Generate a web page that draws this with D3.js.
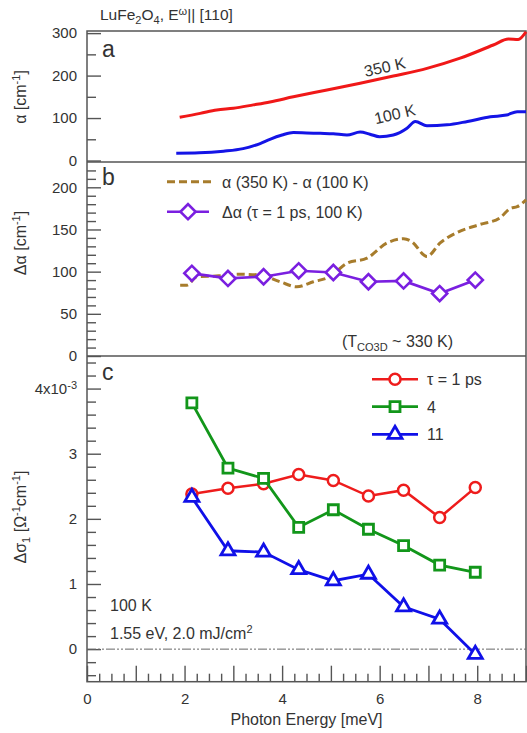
<!DOCTYPE html>
<html>
<head>
<meta charset="utf-8">
<script src="https://cdn.jsdelivr.net/npm/d3@7/dist/d3.min.js"></script>
<style>
body { margin: 0; background: #fff; }
svg text { font-family: "Liberation Sans", Arial, sans-serif; fill: #333; }
</style>
</head>
<body>
<svg id="chart" width="527" height="733"></svg>
<script>
// panel a: absorption spectra
const red350E = [1.9, 2.32, 2.66, 3.0, 3.41, 3.75, 4.23, 4.92, 5.6, 6.28, 6.97, 7.65, 8.33, 8.64, 8.84, 9.0];
const red350V = [102, 111, 119, 123, 131, 138, 150, 166, 182, 199, 217, 241, 272, 286, 285, 303];
const blue100E = [1.83, 2.3, 2.8, 3.2, 3.55, 3.75, 4.0, 4.23, 4.5, 4.78, 5.05, 5.33, 5.6, 5.8, 6.0, 6.28, 6.56, 6.73, 6.97, 7.38, 7.8, 8.27, 8.6, 8.82, 9.0];
const blue100V = [17, 18, 22, 28, 40, 50, 60, 66, 65, 64, 63, 60, 67, 62, 56, 60, 76, 92, 82, 84, 92, 103, 107, 115, 115];

// panel b: difference spectrum and pump-probe
const diffE = [1.91, 2.05, 2.25, 2.7, 3.1, 3.55, 3.96, 4.3, 4.64, 4.98, 5.33, 5.74, 6.15, 6.49, 6.69, 6.9, 6.97, 7.24, 7.65, 8.06, 8.47, 8.68, 8.82, 9.0];
const diffV = [84, 84, 94, 95, 97, 96, 88, 82, 88, 94, 110, 116, 134, 139, 134, 120, 118, 134, 148, 156, 164, 175, 177, 185];
const pumpE = [2.15, 2.89, 3.62, 4.34, 5.05, 5.77, 6.49, 7.23, 7.96];
const dAlpha1ps = [98, 92, 94, 101, 99, 88, 89, 74, 90];

// panel c: conductivity change (x10^-3)
const dSigma1ps = [2.38, 2.47, 2.54, 2.68, 2.59, 2.35, 2.44, 2.02, 2.48];
const dSigma4ps = [3.78, 2.78, 2.62, 1.87, 2.14, 1.84, 1.59, 1.29, 1.18];
const dSigma11ps = [2.33, 1.51, 1.49, 1.22, 1.05, 1.15, 0.65, 0.46, -0.08];

const xTicks = [0, 2, 4, 6, 8];

const svg = d3.select("#chart");
const L = 87, R = 526, T = 31, AB = 162, BB = 356, CB = 681.7;
const FS = "16px", SUB = "11px";

const x = d3.scaleLinear().domain([0, 9]).range([L, R]);
const yA = d3.scaleLinear().domain([-3.5, 305]).range([AB, T]);
const yB = d3.scaleLinear().domain([0, 230]).range([BB, AB]);
const yC = d3.scaleLinear().domain([-0.5, 4.5]).range([CB, BB]);

const axisColor = "#555";

function styleAxis(g) {
  g.select(".domain").remove();
  g.selectAll(".tick line").attr("stroke", axisColor).attr("stroke-width", 1.4);
  g.selectAll(".tick text").style("font-size", "15px").attr("fill", "#333");
}

function yAxis(scale, major, minor) {
  svg.append("g").attr("transform", `translate(${L},0)`)
    .call(d3.axisLeft(scale).tickValues(minor).tickSize(-9).tickFormat(""))
    .call(styleAxis);
  return svg.append("g").attr("transform", `translate(${L},0)`)
    .call(d3.axisLeft(scale).tickValues(major).tickSizeInner(-14).tickSizeOuter(0).tickPadding(10).tickFormat(d3.format("d")))
    .call(styleAxis);
}

yAxis(yA, [0, 100, 200, 300], [50, 150, 250]);
yAxis(yB, [0, 50, 100, 150, 200], d3.range(10, 230, 10).filter(v => v % 50));
const gc = yAxis(yC, [0, 1, 2, 3, 4], d3.range(-2, 23).map(i => i / 5).filter(v => !Number.isInteger(v)));
gc.selectAll(".tick text").filter(d => d === 4).each(function () {
  const t = d3.select(this).text("4x10");
  t.append("tspan").attr("dy", "-0.45em").style("font-size", SUB).text("-3");
});

// x axis
svg.append("g").attr("transform", `translate(0,${CB})`)
  .call(d3.axisBottom(x).tickValues(d3.range(0, 37).map(i => i / 4).filter(v => !Number.isInteger(v))).tickSize(-8).tickFormat(""))
  .call(styleAxis);
svg.append("g").attr("transform", `translate(0,${CB})`)
  .call(d3.axisBottom(x).tickValues(d3.range(0, 10)).tickSizeInner(-16).tickSizeOuter(0).tickPadding(12)
    .tickFormat(d => xTicks.includes(d) ? d : ""))
  .call(styleAxis);

// frame
svg.append("rect").attr("x", L).attr("y", T).attr("width", R - L).attr("height", CB - T)
  .attr("fill", "none").attr("stroke", axisColor).attr("stroke-width", 1.5);
[AB, BB].forEach(yy => svg.append("line").attr("x1", L).attr("x2", R).attr("y1", yy).attr("y2", yy)
  .attr("stroke", axisColor).attr("stroke-width", 1.5));

// zero line panel c
svg.append("line").attr("x1", L).attr("x2", R).attr("y1", yC(0)).attr("y2", yC(0))
  .attr("stroke", "#666").attr("stroke-width", 1).attr("stroke-dasharray", "9,2,2,2,2,2");

const smooth = (xs, ys, ysc) => d3.line().curve(d3.curveMonotoneX).x((d, i) => x(xs[i])).y(d => ysc(d))(ys);

// panel a
svg.append("path").attr("d", smooth(red350E, red350V, yA)).attr("fill", "none").attr("stroke", "#f01818").attr("stroke-width", 3);
svg.append("path").attr("d", smooth(blue100E, blue100V, yA)).attr("fill", "none").attr("stroke", "#1414e6").attr("stroke-width", 3);

// panel b
const brown = "#a77c2c", purple = "#7a1fe0";
svg.append("path").attr("d", smooth(diffE, diffV, yB)).attr("fill", "none").attr("stroke", brown)
  .attr("stroke-width", 3).attr("stroke-dasharray", "8,4");

function series(vals, ysc, color, symType, size, rot, sw) {
  svg.append("path").attr("d", d3.line().x((d, i) => x(pumpE[i])).y(d => ysc(d))(vals))
    .attr("fill", "none").attr("stroke", color).attr("stroke-width", sw);
  svg.append("g").selectAll("path").data(vals).join("path")
    .attr("d", d3.symbol().type(symType).size(size))
    .attr("transform", (d, i) => `translate(${x(pumpE[i])},${ysc(d)}) rotate(${rot})`)
    .attr("fill", "#fff").attr("stroke", color).attr("stroke-width", sw);
}

series(dAlpha1ps, yB, purple, d3.symbolSquare, 115, 45, 2.6);

// panel c
const cRed = "#ee1c1c", cGreen = "#12961a", cBlue = "#1010e8";
series(dSigma1ps, yC, cRed, d3.symbolCircle, 95, 0, 2.5);
series(dSigma4ps, yC, cGreen, d3.symbolSquare, 100, 0, 2.8);
series(dSigma11ps, yC, cBlue, d3.symbolTriangle, 85, 0, 2.8);

// legends
function legendItem(x0, x1, y, color, symType, size, rot, sw, dash) {
  const ln = svg.append("line").attr("x1", x0).attr("x2", x1).attr("y1", y).attr("y2", y)
    .attr("stroke", color).attr("stroke-width", sw);
  if (dash) ln.attr("stroke-dasharray", dash);
  if (symType) svg.append("path").attr("d", d3.symbol().type(symType).size(size)())
    .attr("transform", `translate(${(x0 + x1) / 2},${y}) rotate(${rot})`)
    .attr("fill", "#fff").attr("stroke", color).attr("stroke-width", sw);
}

legendItem(167, 212, 181.7, brown, null, 0, 0, 3, "8,4");
legendItem(167, 209, 211.7, purple, d3.symbolSquare, 115, 45, 2.6);
svg.append("text").attr("x", 222).attr("y", 187.5).style("font-size", FS).text("α (350 K) - α (100 K)");
svg.append("text").attr("x", 222).attr("y", 217.5).style("font-size", FS).text("Δα (τ = 1 ps, 100 K)");

legendItem(372, 418, 379.3, cRed, d3.symbolCircle, 95, 0, 2.5);
legendItem(372, 418, 406.7, cGreen, d3.symbolSquare, 100, 0, 2.8);
legendItem(372, 418, 434.3, cBlue, d3.symbolTriangle, 85, 0, 2.8);
svg.append("text").attr("x", 427).attr("y", 385).style("font-size", FS).text("τ = 1 ps");
svg.append("text").attr("x", 427).attr("y", 412.5).style("font-size", FS).text("4");
svg.append("text").attr("x", 427).attr("y", 440).style("font-size", FS).text("11");

// panel letters
[["a", 57], ["b", 185], ["c", 380]].forEach(([s, yy]) =>
  svg.append("text").attr("x", 102).attr("y", yy).style("font-size", "23px").text(s));

// title
const title = svg.append("text").attr("x", 100).attr("y", 20).style("font-size", "15.5px");
title.append("tspan").text("LuFe");
title.append("tspan").attr("dy", 4).style("font-size", SUB).text("2");
title.append("tspan").attr("dy", -4).text("O");
title.append("tspan").attr("dy", 4).style("font-size", SUB).text("4");
title.append("tspan").attr("dy", -4).text(",  E");
title.append("tspan").attr("dy", -5).style("font-size", SUB).text("ω");
title.append("tspan").attr("dy", 5).text("|| [110]");

// curve labels
svg.append("text").attr("transform", "translate(386,72.5) rotate(-12.5)").attr("text-anchor", "middle").style("font-size", FS).text("350 K");
svg.append("text").attr("transform", "translate(396,119.5) rotate(-13)").attr("text-anchor", "middle").style("font-size", FS).text("100 K");

// annotation b
const tco = svg.append("text").attr("x", 342).attr("y", 347).style("font-size", FS);
tco.append("tspan").text("(T");
tco.append("tspan").attr("dy", 4).style("font-size", SUB).text("CO3D");
tco.append("tspan").attr("dy", -4).text(" ~ 330 K)");

// annotation c
svg.append("text").attr("x", 110).attr("y", 611).style("font-size", FS).text("100 K");
const pump = svg.append("text").attr("x", 110).attr("y", 638.5).style("font-size", FS);
pump.append("tspan").text("1.55 eV, 2.0 mJ/cm");
pump.append("tspan").attr("dy", -6).style("font-size", SUB).text("2");

// y labels
function yLabel(cx, cy, parts) {
  const t = svg.append("text").attr("transform", `translate(${cx},${cy}) rotate(-90)`)
    .attr("text-anchor", "middle").style("font-size", FS);
  parts.forEach(([s, dy, fs]) => {
    const sp = t.append("tspan").text(s);
    if (dy) sp.attr("dy", dy);
    if (fs) sp.style("font-size", fs);
  });
}
yLabel(26, 97, [["α [cm"], ["-1", -6, SUB], ["]", 6]]);
yLabel(26, 243, [["Δα [cm"], ["-1", -6, SUB], ["]", 6]]);
yLabel(26, 517, [["Δσ"], ["1", 4, SUB], [" [Ω", -4], ["-1", -6, SUB], ["cm", 6], ["-1", -6, SUB], ["]", 6]]);

// x label
svg.append("text").attr("x", (L + R) / 2).attr("y", 725).attr("text-anchor", "middle")
  .style("font-size", FS).text("Photon Energy [meV]");
</script>
</body>
</html>
